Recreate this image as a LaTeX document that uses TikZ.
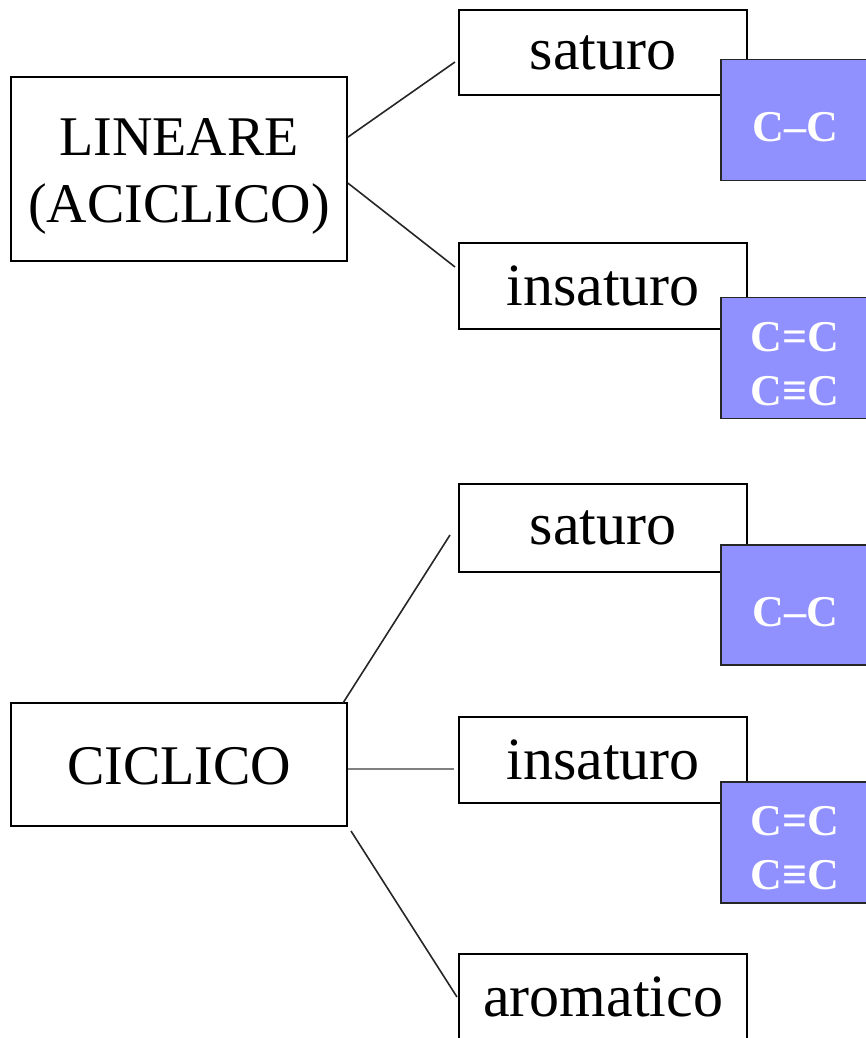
\documentclass[tikz,border=0pt]{standalone}
\usepackage{fontspec}
\setmainfont{Liberation Serif}
\usetikzlibrary{calc}
\begin{document}
\begin{tikzpicture}[x=1pt,y=-1pt,
  wbox/.style={draw=black,line width=1.8pt,fill=white,inner sep=0pt,minimum width=288pt,minimum height=86pt,font=\fontsize{60}{66}\selectfont},
  lbox/.style={draw=black,line width=1.8pt,fill=white,inner sep=0pt,minimum width=336pt},
  ltext/.style={inner sep=0pt,align=center,font=\fontsize{56}{67}\selectfont},
  bbox/.style={draw=black!85,line width=1.8pt,fill=bluefill,inner sep=0pt,minimum width=148pt,minimum height=121pt},
  btext/.style={inner sep=0pt,align=center,text=white,font=\fontsize{44}{54}\selectfont\bfseries},
  conn/.style={line width=1.6pt,draw=black!85}]
\definecolor{bluefill}{RGB}{144,144,255}
\useasboundingbox (0,0) rectangle (866,1038);
\clip (0,0) rectangle (866,1038);
% left boxes
\node[lbox,minimum height=184pt] (lin) at (179,169) {};
\node[ltext] (lint) at ($(lin.center)+(0,7)$) {LINEARE\\(ACICLICO)};
\node[lbox,minimum height=123pt] (cic) at (179,764.5) {};
\node[ltext] (cict) at ($(cic.center)+(0,2)$) {CICLICO};
% right boxes
\node[wbox,minimum height=85pt] (sat1) at (603,52.5) {saturo};
\node[wbox] (ins1) at (603,286) {\raisebox{-3pt}{insaturo}};
\node[wbox,minimum height=88pt] (sat2) at (603,528) {saturo};
\node[wbox] (ins2) at (603,760) {\raisebox{-3pt}{insaturo}};
\node[wbox] (aro) at (603,997) {\raisebox{-3pt}{aromatico}};
% blue boxes
\node[bbox] (b1) at (795,120) {};
\node[btext] (b1t) at ($(b1.center)+(0,7)$) {C–C};
\node[bbox] (b2) at (795,358) {};
\node[btext] (b2t) at ($(b2.center)+(0,6)$) {C=C\\C≡C};
\node[bbox,minimum height=120pt] (b3) at (795,605) {};
\node[btext] (b3t) at ($(b3.center)+(0,7)$) {C–C};
\node[bbox] (b4) at (795,842.5) {};
\node[btext] (b4t) at ($(b4.center)+(0,6)$) {C=C\\C≡C};
% connector end points
\coordinate (l1s) at ($(lin.north east)+(0,61)$);
\coordinate (l2s) at ($(lin.north east)+(0,107)$);
\coordinate (s1e) at (455,62);
\coordinate (i1e) at (455,267);
\coordinate (c1s) at (343,703);
\coordinate (c3s) at (351,831);
\coordinate (s2e) at (450,535);
\coordinate (i2e) at (454,769);
\coordinate (a1e) at (457,997);
\draw[conn] (l1s) -- (s1e);
\draw[conn] (l2s) -- (i1e);
\draw[conn] (c1s) -- (s2e);
\draw[conn,draw=black!50] (cic.east |- i2e) -- (i2e);
\draw[conn] (c3s) -- (a1e);
\end{tikzpicture}
\end{document}
